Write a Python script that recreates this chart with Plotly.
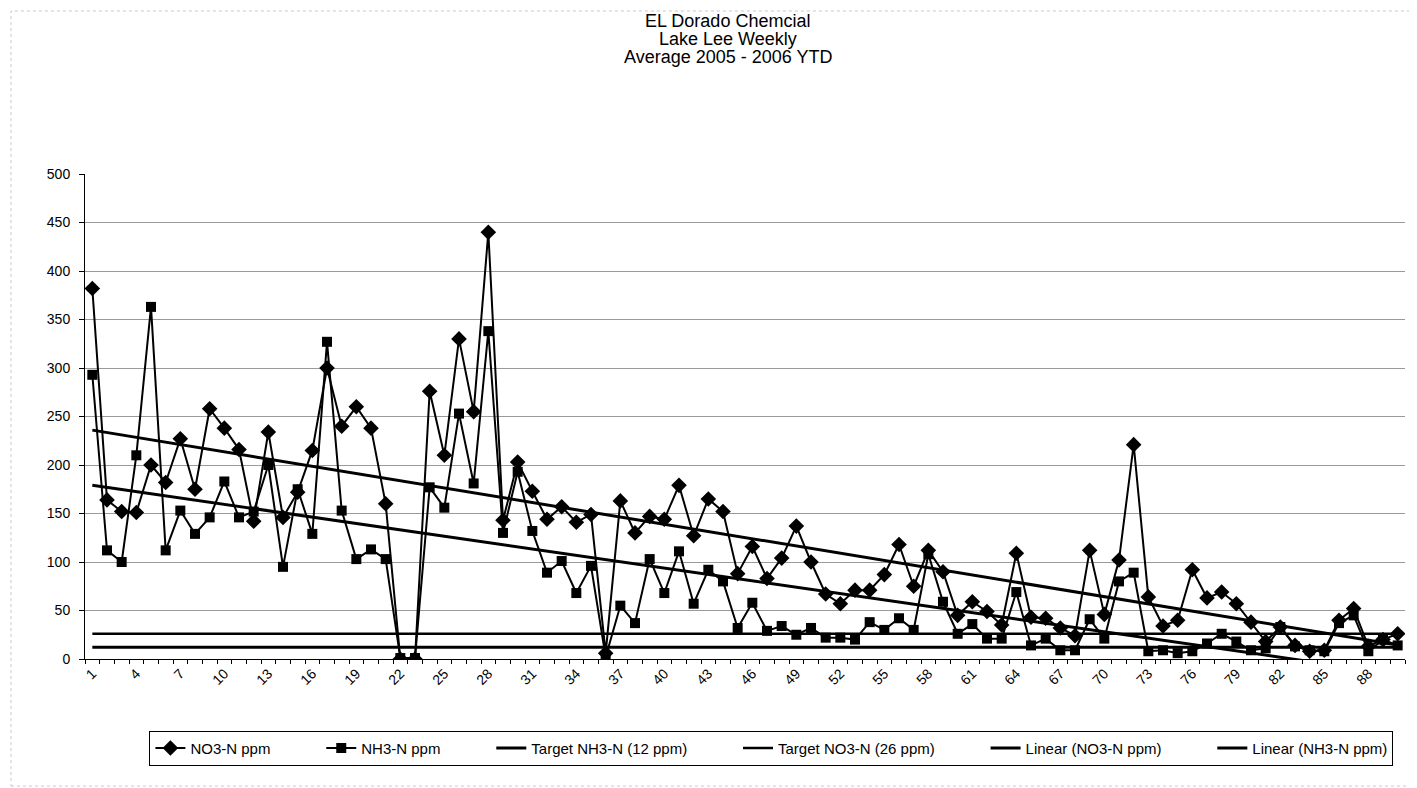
import numpy as np
import plotly.graph_objects as go

weeks = list(range(1, 91))
no3 = [382, 164, 152, 151, 200, 182, 227, 175, 258, 238,
       216, 142, 234, 146, 172, 215, 300, 240, 260, 238,
       160, 0, 0, 276, 210, 330, 255, 440, 143, 203,
       173, 144, 157, 141, 149, 6, 163, 130, 147, 144,
       179, 127, 165, 152, 88, 116, 83, 104, 137, 100,
       67, 57, 71, 71, 87, 118, 75, 112, 90, 45,
       59, 49, 35, 109, 43, 42, 32, 24, 112, 46,
       102, 221, 64, 34, 40, 92, 63, 69, 57, 38,
       18, 33, 14, 8, 9, 40, 52, 13, 20, 26]
nh3 = [293, 112, 100, 210, 363, 112, 153, 129, 146, 183,
       146, 152, 200, 95, 175, 129, 327, 153, 103, 113,
       103, 1, 1, 177, 156, 253, 181, 338, 130, 193,
       132, 89, 101, 68, 96, 2, 55, 37, 103, 68,
       111, 57, 92, 80, 32, 58, 29, 34, 25, 32,
       22, 22, 20, 38, 30, 42, 30, 108, 59, 26,
       36, 21, 21, 69, 14, 21, 9, 9, 41, 21,
       80, 89, 8, 9, 6, 8, 16, 26, 18, 9,
       11, 33, 13, 9, 8, 37, 45, 8, 20, 14]
target_nh3 = 12
target_no3 = 26
tick_weeks = list(range(1, 89, 3))
y_ticks = list(range(0, 501, 50))
title_lines = ["EL Dorado Chemcial", "Lake Lee Weekly", "Average 2005 - 2006 YTD"]
series_names = ["NO3-N ppm", "NH3-N ppm", "Target NH3-N (12 ppm)",
                "Target NO3-N (26 ppm)", "Linear (NO3-N ppm)", "Linear (NH3-N ppm)"]

FONT = "Arial, Liberation Sans, sans-serif"
PAD = "\u00a0" * 11

x = np.array(weeks, dtype=float)
p_no3 = np.polyfit(x, np.array(no3, dtype=float), 1)
p_nh3 = np.polyfit(x, np.array(nh3, dtype=float), 1)
trend_no3 = np.polyval(p_no3, x)
trend_nh3 = np.polyval(p_nh3, x)

names = [n + (PAD if i < len(series_names) - 1 else "") for i, n in enumerate(series_names)]

fig = go.Figure()
fig.add_trace(go.Scatter(x=weeks, y=no3, name=names[0], mode="lines+markers",
                         line=dict(color="black", width=2),
                         marker=dict(symbol="diamond", size=12, color="black")))
fig.add_trace(go.Scatter(x=weeks, y=nh3, name=names[1], mode="lines+markers",
                         line=dict(color="black", width=2),
                         marker=dict(symbol="square", size=10, color="black")))
fig.add_trace(go.Scatter(x=weeks, y=[target_nh3] * len(weeks), name=names[2],
                         mode="lines", line=dict(color="black", width=3)))
fig.add_trace(go.Scatter(x=weeks, y=[target_no3] * len(weeks), name=names[3],
                         mode="lines", line=dict(color="black", width=2.5)))
fig.add_trace(go.Scatter(x=weeks, y=trend_no3, name=names[4],
                         mode="lines", line=dict(color="black", width=3)))
fig.add_trace(go.Scatter(x=weeks, y=trend_nh3, name=names[5],
                         mode="lines", line=dict(color="black", width=3)))

annotations = []
for k, t in enumerate(title_lines):
    annotations.append(dict(text=t, xref="paper", yref="paper", x=0.487, y=1.0,
                            yshift=165 - 18 * k, xanchor="center", yanchor="top",
                            showarrow=False, font=dict(size=18, family=FONT)))

fig.update_layout(
    width=1409, height=780,
    margin=dict(l=77, r=12, t=166, b=129),
    paper_bgcolor="white", plot_bgcolor="white",
    font=dict(family=FONT, size=14, color="black"),
    showlegend=True,
    legend=dict(orientation="h", x=0.52, xanchor="center", y=-0.148, yanchor="top",
                bordercolor="black", borderwidth=1, font=dict(size=15, family=FONT),
                itemwidth=30, traceorder="normal"),
    annotations=annotations,
    shapes=[dict(type="rect", xref="paper", yref="paper",
                 x0=-74 / 1320, x1=1.0075, y0=-0.262, y1=1 + 163 / 485,
                 line=dict(color="#c8c8c8", width=1, dash="dot"), layer="below")],
)
fig.update_xaxes(range=[0.5, 90.5], tickmode="array", tickvals=tick_weeks,
                 ticktext=[str(t) for t in tick_weeks], tickangle=-45, ticks="",
                 showline=True, linecolor="black", linewidth=1, showgrid=False,
                 zeroline=False, tickfont=dict(size=14),
                 minor=dict(tickmode="array", tickvals=[w + 0.5 for w in [0] + weeks],
                            ticks="outside", ticklen=4, tickcolor="black", showgrid=False))
fig.update_yaxes(range=[0, 500], tickmode="array", tickvals=y_ticks, ticks="outside",
                 ticklen=5, tickcolor="black", showline=True, linecolor="black", linewidth=1,
                 showgrid=True, gridcolor="#9a9a9a", gridwidth=1, zeroline=False,
                 tickfont=dict(size=14), ticklabelstandoff=6)

fig.write_html("out.html")
